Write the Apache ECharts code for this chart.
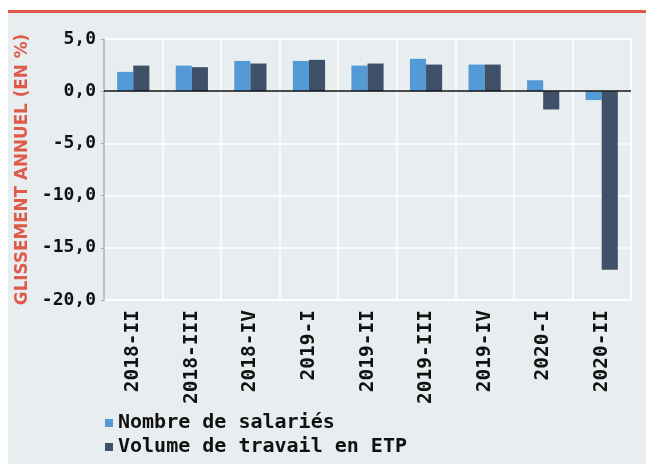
<!DOCTYPE html>
<html>
<head>
<meta charset="utf-8">
<script src="https://cdn.jsdelivr.net/npm/echarts@6/dist/echarts.min.js"></script>
<style>html,body{margin:0;padding:0;background:#fff;}#c{width:646px;height:464px;}</style>
</head>
<body>
<div id="c"></div>
<script>
var categories = ['2018-II','2018-III','2018-IV','2019-I','2019-II','2019-III','2019-IV','2020-I','2020-II'];
var salaries = [1.85, 2.45, 2.9, 2.9, 2.45, 3.1, 2.55, 1.05, -0.85];
var volumeETP = [2.45, 2.3, 2.65, 3.0, 2.65, 2.55, 2.55, -1.75, -17.1];
var yTicks = {min: -20, max: 5, interval: 5};
var seriesNames = ['Nombre de salariés', 'Volume de travail en ETP'];
var yTitle = 'GLISSEMENT ANNUEL (EN %)';

var mono = '"DejaVu Sans Mono", monospace';
var chart = echarts.init(document.getElementById('c'), null, {renderer: 'canvas'});
chart.setOption({
  backgroundColor: '#ffffff',
  animation: false,
  graphic: [
    {type: 'rect', left: 8, top: 10, shape: {width: 638, height: 454}, style: {fill: '#e8edf0'}, z: -10},
    {type: 'rect', left: 8, top: 10, shape: {width: 638, height: 3}, style: {fill: '#e05a4a'}, z: -9}
  ],
  grid: {left: 104, right: 15, top: 39, bottom: 164, show: true, borderColor: '#ffffff', borderWidth: 1.5, backgroundColor: 'transparent'},
  legend: {
    orient: 'vertical', left: 100, top: 408, itemGap: 4, itemWidth: 8, itemHeight: 8,
    icon: 'rect',
    textStyle: {fontFamily: mono, fontWeight: 'bold', fontSize: 20, color: '#111'},
    data: seriesNames
  },
  xAxis: {
    type: 'category', data: categories, boundaryGap: true,
    axisLine: {show: false, onZero: false},
    axisTick: {show: false},
    splitLine: {show: true, interval: 0, lineStyle: {color: '#ffffff', width: 1.5}},
    axisLabel: {rotate: 90, interval: 0, margin: 10, fontFamily: mono, fontWeight: 'bold', fontSize: 19.5, color: '#111'}
  },
  yAxis: {
    type: 'value', min: yTicks.min, max: yTicks.max, interval: yTicks.interval,
    name: yTitle, nameLocation: 'middle', nameGap: 62, nameRotate: 90,
    nameTextStyle: {fontFamily: '"DejaVu Sans", sans-serif', fontWeight: 'bold', fontSize: 16.8, color: '#e05a4a', padding: [0, 0, 4, 0]},
    axisLine: {show: true, lineStyle: {color: '#a8adb2', width: 1.5}},
    axisTick: {show: true, length: 3, lineStyle: {color: '#a8adb2'}},
    splitLine: {show: true, lineStyle: {color: '#ffffff', width: 1.5}},
    axisLabel: {margin: 8, fontFamily: mono, fontWeight: 'bold', fontSize: 18, color: '#111',
      formatter: function (v) { return v.toFixed(1).replace('.', ','); }}
  },
  series: [
    {name: seriesNames[0], type: 'bar', data: salaries, itemStyle: {color: '#549ad6'},
     barGap: '0%', barCategoryGap: '45%',
     markLine: {silent: true, symbol: 'none', label: {show: false}, lineStyle: {color: '#111', type: 'solid', width: 1.5}, data: [{yAxis: 0}], z: 10}},
    {name: seriesNames[1], type: 'bar', data: volumeETP, itemStyle: {color: '#3f5069'},
     barGap: '0%', barCategoryGap: '45%'}
  ]
});
</script>
</body>
</html>
